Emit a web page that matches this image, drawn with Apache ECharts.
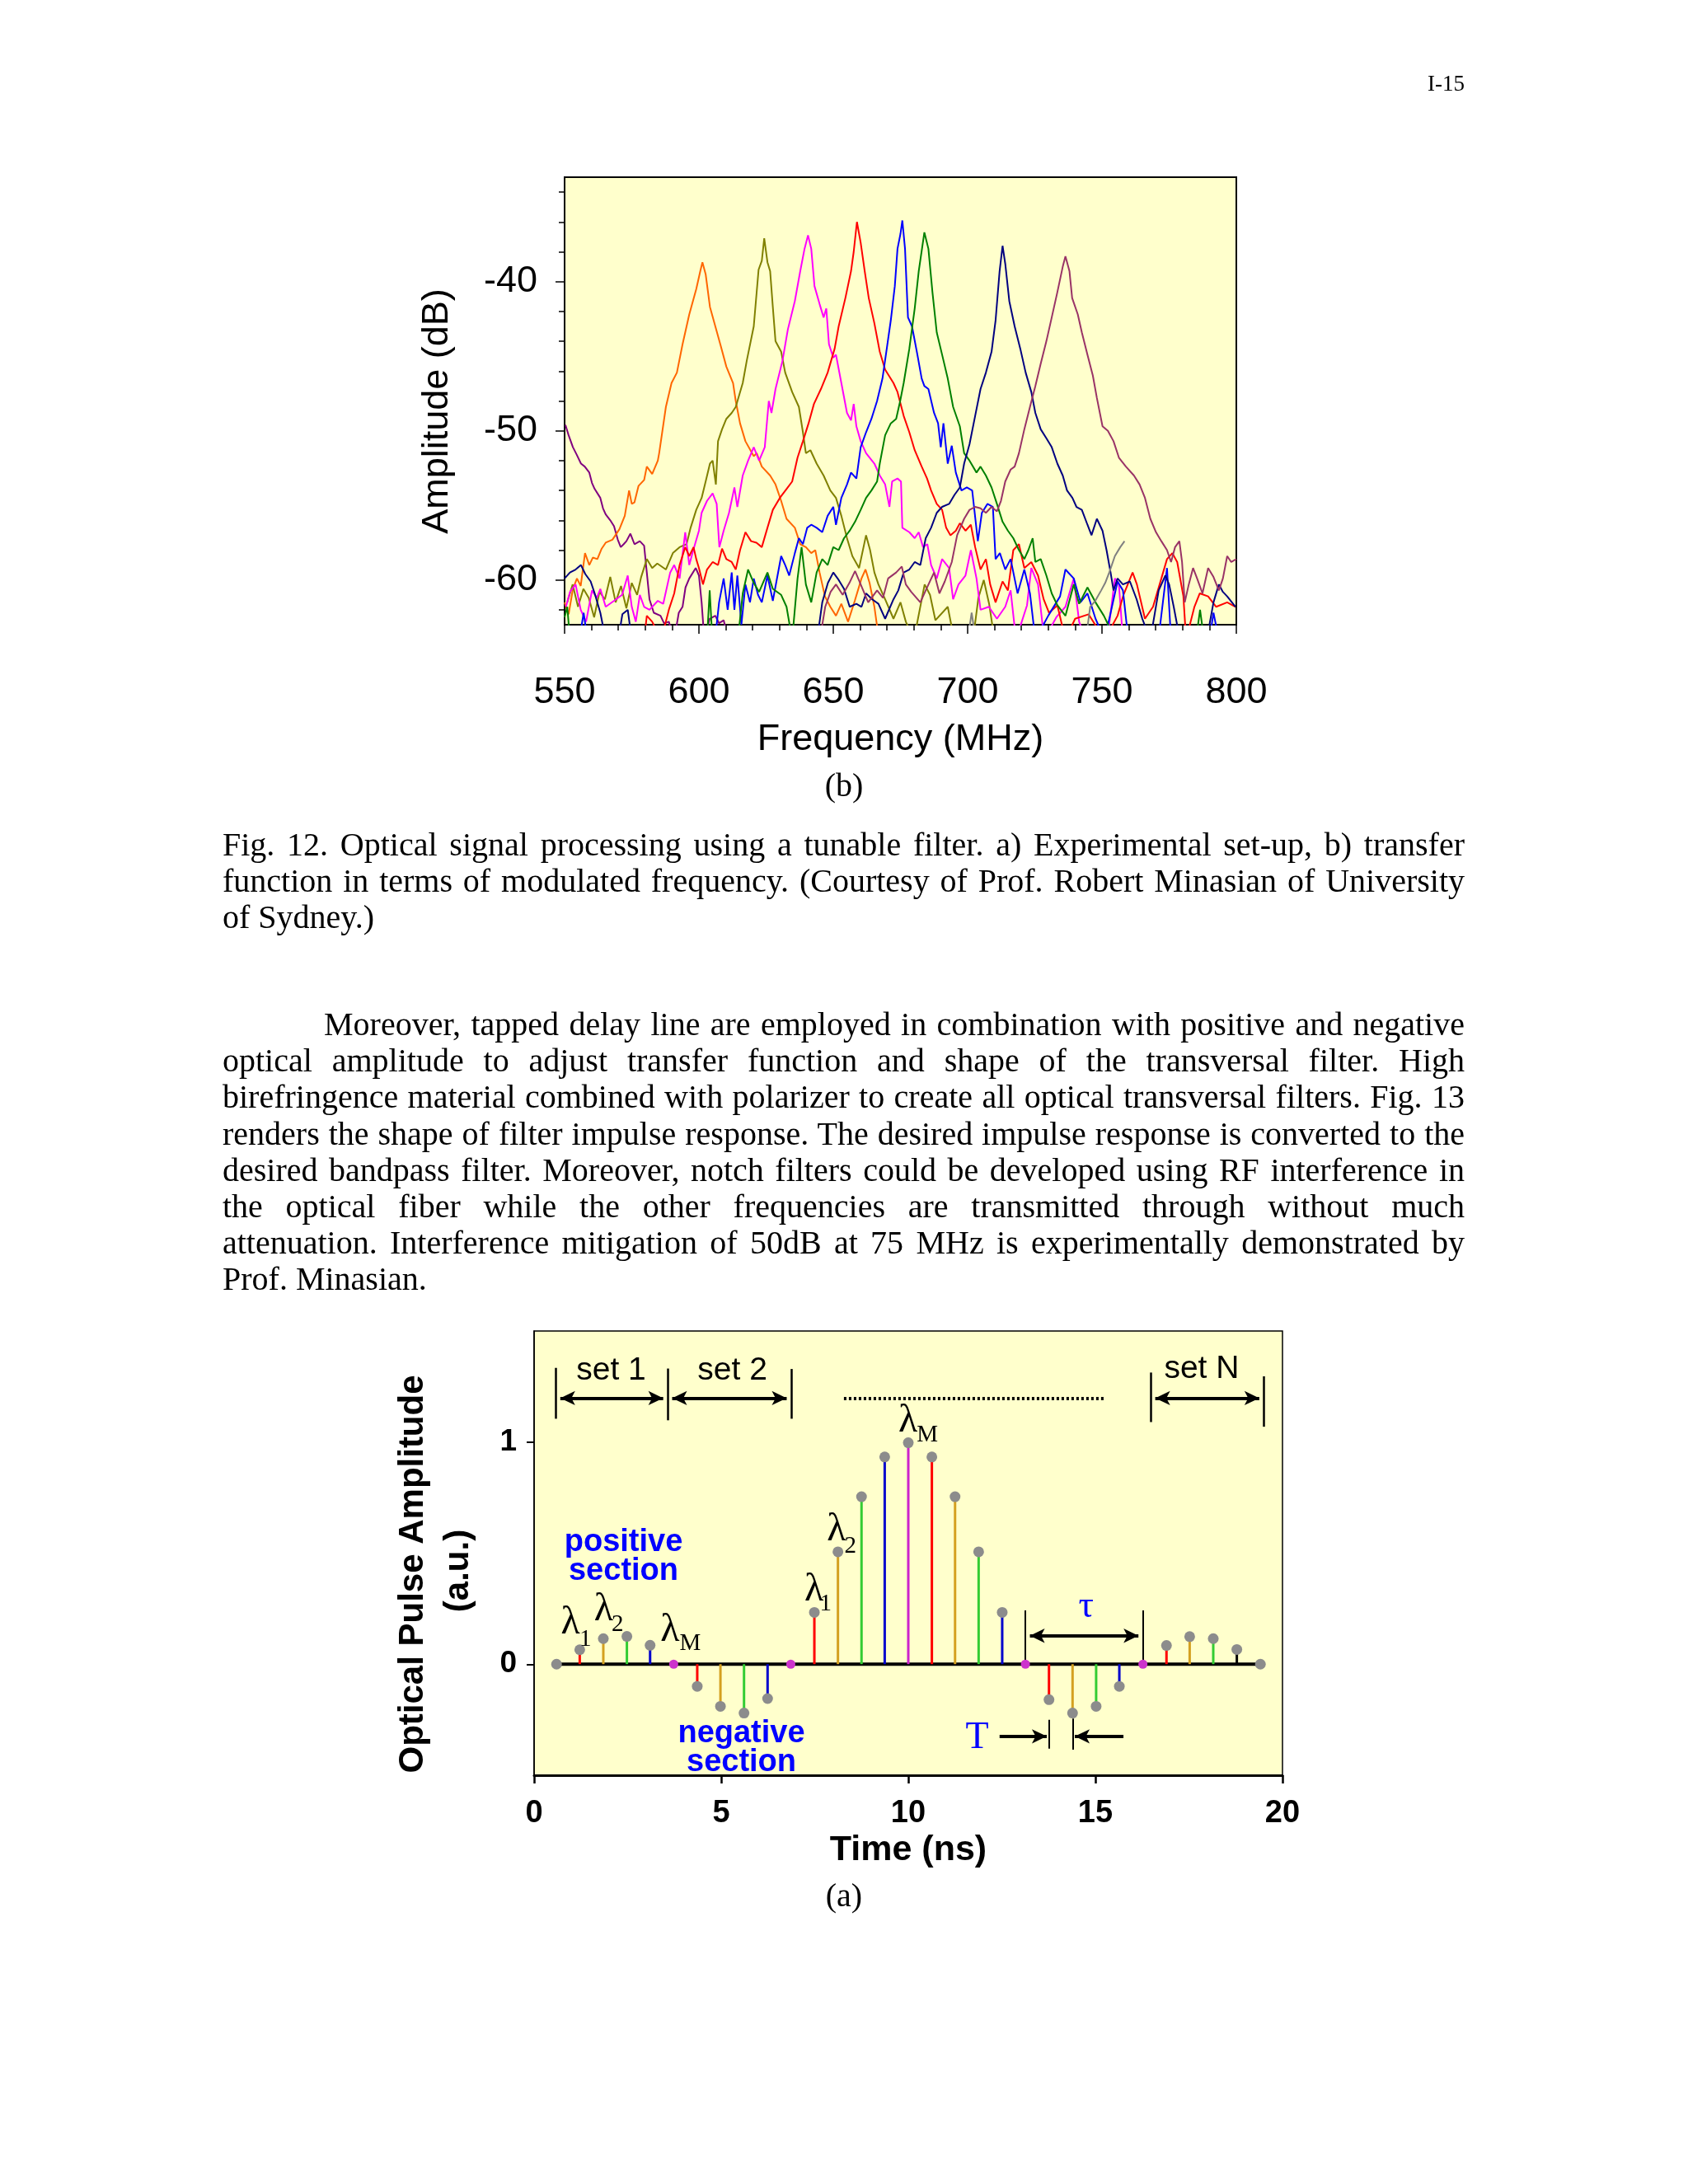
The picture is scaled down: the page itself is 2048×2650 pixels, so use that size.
<!DOCTYPE html>
<html><head><meta charset="utf-8">
<script src="https://cdn.jsdelivr.net/npm/echarts@6/dist/echarts.min.js"></script>
<style>
html,body{margin:0;padding:0;background:#fff;}
#page{position:relative;width:2048px;height:2650px;overflow:hidden;}
#chart{position:absolute;left:0;top:0;width:2048px;height:2650px;}
.t{position:absolute;z-index:2;font-family:"Liberation Serif","Times New Roman",serif;font-size:40px;line-height:44.2px;color:#000;}
.j{text-align:justify;text-align-last:justify;}
</style></head>
<body><div id="page"><div id="chart"></div>
<div class="t" style="left:1600px;top:86px;width:177px;text-align:right;font-size:27px;line-height:30px">I-15</div>
<div class="t" style="left:924px;top:931px;width:200px;text-align:center">(b)</div>
<div class="t" style="left:270px;top:1003px;width:1507px">
<div class="j">Fig. 12. Optical signal processing using a tunable filter. a) Experimental set-up, b) transfer</div>
<div class="j">function in terms of modulated frequency. (Courtesy of Prof. Robert Minasian of University</div>
<div>of Sydney.)</div>
</div>
<div class="t" style="left:270px;top:1221px;width:1507px">
<div class="j" style="padding-left:123px">Moreover, tapped delay line are employed in combination with positive and negative</div>
<div class="j">optical amplitude to adjust transfer function and shape of the transversal filter. High</div>
<div class="j">birefringence material combined with polarizer to create all optical transversal filters. Fig. 13</div>
<div class="j">renders the shape of filter impulse response. The desired impulse response is converted to the</div>
<div class="j">desired bandpass filter. Moreover, notch filters could be developed using RF interference in</div>
<div class="j">the optical fiber while the other frequencies are transmitted through without much</div>
<div class="j">attenuation. Interference mitigation of 50dB at 75 MHz is experimentally demonstrated by</div>
<div>Prof. Minasian.</div>
</div>
<div class="t" style="left:924px;top:2278px;width:200px;text-align:center">(a)</div>
</div>
<script>
// ---------- Figure (b): transfer function traces, [frequency MHz, amplitude dB] ----------
const freqTicks = [550, 600, 650, 700, 750, 800];
const ampLabelValues = [-60, -50, -40];
const ampMinorTicks = [-62, -58, -56, -54, -52, -48, -46, -44, -42, -38, -36, -34];

const purpleTrace = [[550.3,-49.6],[551.5,-50.3],[553.1,-51.1],[554.5,-51.6],[556.1,-52.2],[557.5,-52.4],[559.2,-52.8],[560.2,-53.5],[561.2,-53.9],[563.3,-54.5],[564.3,-55.2],[565.3,-55.6],[567,-56],[568.4,-56.4],[569.8,-57.3],[570.9,-57.8],[572,-57.6],[573,-57.4],[574.5,-56.9],[576,-57.6],[578,-57.4],[579.6,-57.7],[580.6,-59.5],[581.6,-61.3],[583.2,-62.2],[585.7,-62.4],[587,-62.9],[588.8,-62.8],[590.8,-64],[592.5,-62.2],[593.9,-61.8],[595,-60.5],[596.4,-59.9],[598.8,-59.2],[600,-59.7],[601,-61.5],[602,-64],[604,-62.6],[606.1,-62.4],[607.5,-62.9],[609.2,-62.7],[611,-64]];
const orangeTrace = [[550,-61.5],[551.5,-62.3],[553.1,-60.6],[554.6,-59.9],[556,-60.4],[557.6,-58.2],[559.2,-59],[560.5,-58.5],[562.2,-58.6],[563.8,-57.9],[565.3,-57.5],[567.8,-57.3],[570.4,-56.6],[572.4,-55.7],[574,-54],[575,-54.9],[576,-54.8],[577.5,-53.7],[579.6,-53.3],[580.6,-52.4],[582.6,-52.9],[584.7,-52],[585.2,-51.5],[587.7,-48.4],[589.8,-46.8],[591.8,-46.1],[593.9,-44.2],[596.4,-42.2],[599,-40.5],[600.5,-39.3],[601.3,-38.7],[602.5,-39.5],[604.1,-41.7],[606.1,-43],[608.1,-44.3],[610.2,-45.7],[612.7,-46.8],[613.7,-48],[615.3,-49.5],[617.3,-50.7],[620.4,-51.7],[621.5,-51.5],[623.4,-52.4],[626.5,-53],[628.5,-53.6],[630.6,-54.7],[632.6,-55.9],[635.7,-56.5],[637.7,-57.6],[639.8,-57.8],[641.8,-58.2],[643.3,-58],[644.9,-59.5],[646.9,-61.1],[648.9,-61.8],[651,-62.4],[653,-61.6],[655.5,-62.8],[658,-61.4],[660.5,-59.9],[662,-59.3],[663.5,-60.2],[665.3,-61.8],[667,-64]];
const oliveTrace = [[551,-61.5],[553,-60.3],[555,-61.8],[557,-60.6],[559,-61.2],[561,-62.5],[563,-60.8],[565,-61.3],[567,-59.8],[569,-61.5],[571,-60.4],[573,-61.9],[575,-60.2],[577,-61],[578.5,-59.8],[580.6,-58.6],[582.6,-59.2],[584.5,-58.9],[587.7,-59.3],[590.3,-58.2],[592.8,-57.8],[595.4,-57.6],[596.9,-56.5],[599,-55.3],[601,-54.5],[602.5,-53.4],[604.1,-52.2],[605.1,-52],[606.3,-53.6],[607.1,-50.7],[608.6,-49.9],[610.2,-49.2],[612.2,-48.8],[613.7,-48.4],[616.3,-46.8],[617.8,-45.3],[620.4,-43],[622.2,-39.2],[623.4,-38.6],[624.3,-37.1],[625.5,-38.7],[626.5,-39.3],[627.5,-41.7],[628.5,-44],[630.6,-44.7],[632.1,-46.1],[634.7,-47.4],[637.2,-48.4],[638.7,-50.1],[639.8,-51.5],[641.5,-51.3],[643.8,-52.2],[646.4,-53],[648.9,-54],[651,-54.5],[653,-55.7],[655.1,-57.2],[657.1,-58.4],[659.6,-59.2],[662.2,-57],[663.7,-58],[665.3,-59.5],[666.8,-60.3],[669.3,-61.3],[672.4,-62.6],[675,-61.5],[677,-62.8],[680,-64],[684,-60.3],[686,-61],[688,-62.7],[692.6,-61.8],[695,-64],[702,-64],[704,-61.2],[706,-60],[708,-61.6],[710,-64]];
const magentaTrace = [[550.5,-61.8],[552,-60.8],[554.1,-60.3],[556,-62],[558,-62.8],[560.2,-60.7],[562,-61.2],[563.3,-60.6],[565.3,-61.8],[568.4,-61.4],[571.4,-61],[573.5,-59.7],[575,-61.8],[576.5,-62.8],[578,-61],[579.6,-61.8],[581.6,-62],[584.7,-61.4],[586.7,-61.6],[589.3,-59.5],[590.8,-59],[592.8,-59.9],[594.9,-56.8],[596.4,-59],[597.9,-58],[600,-56.7],[601,-55.5],[603,-54.7],[605.1,-54.2],[606.6,-54.9],[607.6,-57.8],[609.2,-56.7],[611.2,-55.5],[613.2,-53.8],[614.3,-55.1],[616.3,-53],[618.3,-52],[620.4,-51.1],[622.4,-52],[624.5,-51.1],[626,-48],[627,-48.8],[628.5,-47.2],[631.1,-45.3],[633.1,-43.2],[635.7,-41.3],[637.7,-39.3],[639.3,-37.8],[640.6,-36.9],[641.8,-37.8],[643,-40.3],[644.9,-41.5],[646.4,-42.4],[647.4,-41.8],[648.4,-44.2],[650,-45.1],[651,-44.9],[653,-46.8],[655.1,-48.8],[656.6,-49.3],[657.6,-48.2],[658.6,-49.7],[660.2,-50.7],[662.2,-51.5],[665.3,-52.2],[667.3,-53],[669.3,-53.6],[670.9,-55.1],[671.9,-53.4],[673.9,-53.2],[675.2,-53.4],[675.7,-56.5],[678.3,-56.8],[680.3,-57.2],[681.8,-56.8],[683.4,-57.8],[685,-57.6],[686.4,-59],[688.5,-59.9],[690.5,-58.6],[693.1,-59.2],[694.6,-61.3],[696.6,-60.3],[699.2,-59.7],[701.2,-58],[703.3,-59.9],[704.8,-62],[707.9,-61.8],[710.9,-62.6],[714,-61.8],[716,-60.7],[718,-64],[722.1,-61.7],[723.7,-59.2],[726.2,-60.3],[728.5,-64],[733,-62.5],[736.4,-61.8],[739.5,-59.9],[741.5,-62.8],[744,-64],[752,-64],[754.8,-59.9],[756.3,-60.3],[757.8,-64]];
const redTrace = [[579.6,-64],[580.6,-62.4],[582.6,-62.8],[586,-64],[588.8,-62],[590.8,-60.9],[592.8,-59],[594.9,-57.8],[596.4,-58.4],[598,-57.8],[599,-58.6],[600,-59.2],[601.5,-60.3],[603,-59.3],[605.1,-58.8],[607.1,-59],[608.6,-57.9],[610.2,-58.6],[612.2,-58.8],[613.7,-59.3],[615.3,-58],[617.3,-56.8],[619.4,-57.4],[621.4,-57.5],[623.4,-57.8],[625.5,-56.5],[627.5,-55.3],[630.1,-54.5],[632.6,-53.9],[634.7,-53.4],[636.7,-51.8],[638.7,-50.7],[640.8,-49.5],[642.8,-48.2],[645.4,-47.2],[647.9,-46.1],[650.5,-44.5],[652,-43],[654.5,-41.1],[656.6,-39.3],[657.6,-38],[658.8,-36],[660.2,-37.4],[661.7,-39.3],[663.2,-41.1],[665.3,-42.8],[667.3,-44.7],[669.3,-45.9],[672.4,-46.8],[673.9,-47.4],[676.2,-49],[678.3,-50.1],[680.3,-51.3],[682.9,-52.4],[684.9,-53.2],[686.4,-54],[688.5,-54.9],[690.5,-55.3],[692,-56.5],[693.6,-57],[695.6,-56.7],[697.1,-56.2],[699.2,-56.7],[701.2,-56.3],[702.8,-57.8],[704.8,-59.3],[706.8,-58.6],[708.4,-60.3],[710.4,-61.5],[713,-60.1],[715,-60.7],[717,-58],[719.1,-57.6],[721.1,-59.2],[723.7,-58.8],[726.2,-59.7],[728.3,-61.3],[730.3,-62.2],[733.4,-61.7],[736.4,-64],[740,-62.6],[745,-62.3],[751,-64],[755.8,-62.4],[758,-61],[761.4,-59.5],[763,-60.3],[766,-62.6],[769,-61.8],[772.1,-59.9],[774.2,-58.6],[776.2,-58.2],[778,-58.8],[780.3,-61.1],[781.3,-64],[784.4,-61.8],[786.4,-60.9],[789.5,-61.1],[792.5,-61.8],[796.6,-61.5],[799.7,-61.8]];
const blueTrace = [[555.5,-64],[557.1,-62.2],[558.5,-64],[606,-64],[607.5,-61.5],[609.2,-59.9],[610.7,-62],[612.2,-59.5],[613.2,-62],[614.3,-59.7],[615.8,-63],[617.3,-60.3],[619,-61.5],[620.4,-59.9],[622,-61],[623.4,-61.5],[625.5,-59.7],[627.5,-61.4],[630.6,-58.4],[632.1,-59],[633.6,-59.7],[635.7,-58.2],[637.2,-57.2],[638.7,-57.6],[640.3,-56.5],[641.8,-56.3],[643.8,-56.5],[645.9,-56.8],[647.9,-55.7],[650,-55.1],[651,-56.3],[653,-54.5],[655.1,-53.6],[656.6,-52.8],[658.6,-53.2],[660.2,-51.1],[662.2,-50.1],[664.2,-49.2],[666.3,-48],[668.3,-46.5],[669.9,-44.5],[671.4,-42.6],[672.9,-40.3],[673.9,-37.8],[675,-36.8],[675.7,-35.9],[676.7,-37.8],[677.8,-42.4],[679.3,-43],[681.3,-44.9],[682.9,-46.5],[683.9,-47],[685.4,-47.2],[687.5,-48.8],[689,-49.5],[690,-51.1],[691,-49.5],[692.6,-52.2],[694.1,-51],[695.6,-52.8],[697.7,-54],[699.7,-53.8],[701.7,-54],[703.8,-57.4],[705.3,-55.5],[707.4,-54.9],[709.4,-55.1],[710.4,-58.6],[712,-58.2],[714,-59.3],[716,-58.6],[718.6,-60.9],[721.1,-59.3],[723.2,-60.9],[725.2,-64],[730,-62.4],[734.4,-61.1],[736.4,-59.3],[739.5,-59.9],[742,-61.5],[744.6,-60.9],[747.6,-62.6],[751,-64],[755.8,-60.1],[757.8,-60.7],[759.8,-64],[771,-64],[774.2,-59.2],[775.7,-64],[790,-64],[791.5,-62.2],[793.5,-64]];
const greenTrace = [[550,-62.5],[551,-61.8],[552,-64],[603,-64],[604,-60.7],[605,-64],[614.5,-64],[616.3,-60.9],[618.3,-59.3],[620.4,-60.2],[622.4,-60.8],[625.5,-59.5],[627.5,-60.6],[630.6,-61],[632.6,-61.8],[634.7,-64],[636.7,-59.9],[638.2,-57.8],[639.8,-60.3],[641.8,-61.5],[643.8,-59.5],[645.9,-58.6],[647.9,-59],[650,-57.8],[652,-58],[654,-57.2],[656.1,-56.7],[658.1,-56.1],[660.2,-55.3],[662.2,-54.5],[664.2,-54],[666.3,-53.4],[667.3,-52.2],[669.3,-50.3],[671.4,-49.5],[673.4,-49.2],[674.9,-48],[676.2,-46.8],[678.3,-44.5],[680.3,-41.8],[681.8,-39.3],[683.9,-36.7],[685.4,-37.8],[686.9,-40.7],[688.5,-43.4],[690.5,-44.9],[692.6,-46.5],[694.6,-48.4],[697.1,-49.7],[698.7,-51.5],[700.7,-52],[703.3,-52.8],[704.8,-52.4],[706.8,-53],[708.9,-53.8],[710.9,-54.9],[713,-56.1],[715,-56.7],[717,-57.2],[719.1,-58],[721.1,-58.6],[722.6,-58],[724.2,-57.2],[725.2,-58.8],[727.2,-58.6],[729.3,-59.7],[731.3,-60.9],[733.4,-61.7],[736.4,-62.4],[739.5,-60.3],[741.5,-61.6],[744.6,-60.5],[747.6,-61.5],[750.7,-62.4],[755,-64],[785,-64],[786.5,-62],[788,-64]];
const navyTrace = [[550,-59.9],[552,-59.5],[554.1,-59.3],[556.1,-59],[557.7,-59.6],[559.7,-60.1],[561.2,-60.9],[563.3,-62.2],[565.3,-64],[570,-64],[571.5,-62.3],[573.5,-62],[575,-64],[644,-64],[645.9,-61.5],[648,-60.2],[650,-59.5],[652,-60],[654,-60.6],[656.1,-61.8],[658.6,-61.6],[660.5,-61.8],[662.2,-60.9],[664.5,-61.3],[666.8,-61.6],[669.3,-62.6],[672.4,-61.3],[674.2,-60.7],[676.2,-59.5],[678.3,-59.3],[680.3,-58.8],[682.4,-59],[684.4,-57.2],[686.4,-56.5],[688.5,-55.5],[690.5,-55.1],[693.1,-54.9],[695.1,-54.3],[697.1,-53.8],[698.7,-52.2],[700.7,-50.9],[702.8,-49],[704.8,-47.2],[706.8,-46.1],[708.9,-44.7],[710.4,-42.6],[711.9,-39.3],[713,-37.6],[714,-38.8],[715.5,-41.3],[717.5,-43],[719.6,-44.5],[721.6,-46.1],[723.7,-47.4],[725.2,-48.8],[727.2,-49.9],[729.3,-50.5],[731.3,-51.1],[733.4,-52.2],[735.4,-53],[737,-54],[739,-54.5],[740.5,-55.1],[742.5,-55.3],[744.6,-56.3],[746.1,-57],[748.1,-55.9],[750.2,-56.7],[751.7,-58],[753.2,-59.5],[754.3,-60.7],[755.8,-59.9],[757.8,-60.3],[760.4,-60.1],[762.9,-61.3],[765,-62.6],[768,-64],[771.1,-60.7],[773.6,-59.7],[775,-60.3],[776.7,-61.8],[779,-64],[789,-64],[791.5,-61.5],[793.5,-60.3],[795,-60.8],[796.6,-61.1],[799.7,-61.8]];
const mauveTrace = [[645,-64],[647,-61.8],[649,-60.8],[651,-60.3],[653.5,-61],[656,-60.2],[658.1,-59.4],[660.2,-60.3],[663,-61.5],[666.3,-60.7],[668.5,-61.2],[670.4,-59.9],[673.4,-59.5],[675.5,-59.1],[677,-60.3],[679,-60.8],[682.4,-61.5],[684.4,-60.7],[687.5,-59.5],[689.5,-60.9],[691.5,-60.1],[694.1,-58.8],[696.1,-57],[698.7,-55.9],[700.7,-55.3],[702.8,-55.1],[704.8,-55.2],[706.8,-55.5],[708.9,-55.1],[710.9,-55.4],[712.4,-54.7],[714,-53.4],[716,-52.6],[717.5,-52.4],[719.1,-51.5],[721.1,-49.9],[723.2,-48.4],[725.2,-47],[727.2,-45.5],[729.3,-44],[731.3,-42.4],[733.4,-40.7],[735.4,-39],[736.4,-38.3],[737.9,-39.3],[738.9,-41.1],[741,-42.2],[742.5,-43.4],[744.6,-44.9],[746.6,-46.3],[748.1,-47.8],[750.2,-49.7],[752.2,-50],[754.3,-50.7],[756.3,-51.8],[758.9,-52.4],[761.9,-53],[764,-53.6],[766,-54.5],[768,-55.9],[770.1,-56.8],[772.1,-57.4],[774.2,-58],[775.7,-58.8],[777.2,-57.8],[778.8,-57.4],[779.8,-58.8],[780.8,-61.5],[782.3,-60.3],[783.9,-59.2],[785.4,-59.9],[787.4,-60.9],[789.5,-59.2],[791.5,-59.8],[793.5,-60.7],[795,-59.9],[796.6,-58.4],[798.1,-58.8],[800,-58.6]];
const grayTrace = [[700,-64],[701.5,-62.2],[703,-64],[744,-64],[745.6,-61.8],[747.5,-61.4],[749.7,-60.7],[751.2,-60.2],[752.7,-59.5],[754.8,-58.4],[756.8,-57.8],[758.4,-57.4]];

// ---------- Figure (a): impulse response taps ----------
const timeTicks = [0, 5, 10, 15, 20];
const pulseTickValues = [0, 1];
const stemTimes = [0.6,1.22,1.85,2.48,3.1,3.73,4.36,4.98,5.61,6.24,6.86,7.49,8.12,8.75,9.37,10.0,10.63,11.25,11.88,12.51,13.13,13.76,14.39,15.02,15.64,16.27,16.9,17.52,18.15,18.78,19.41];
const stemAmps  = [0,0.065,0.115,0.125,0.085,0,-0.10,-0.19,-0.22,-0.155,0,0.233,0.506,0.754,0.933,0.997,0.933,0.754,0.506,0.233,0,-0.16,-0.22,-0.19,-0.10,0,0.084,0.124,0.115,0.066,0];
// channel per tap: 0 set boundary, 1 λ1 red, 2 λ2 gold, 3 green, 4 blue, 5 λM magenta, 6 black, 7 end point
const stemChannel = [7,1,2,3,4,0,1,2,3,4,0,1,2,3,4,5,1,2,3,4,0,1,2,3,4,0,1,2,3,6,7];

// annotations (data coordinates)
const setNames = [[2.06,1.322,'set 1'],[5.30,1.322,'set 2'],[17.84,1.328,'set N']];
const setTicks = [[0.58,1.105,1.334],[3.57,1.098,1.331],[6.87,1.105,1.329],[16.48,1.09,1.313],[19.5,1.069,1.296]];
const setSpans = [[0.58,3.57,1.198],[3.57,6.87,1.198],[16.48,19.5,1.198]];
const dottedSpan = [8.28,15.27,1.198];
const sectionNames = [[2.39,0.483,'positive\nsection'],[5.54,-0.376,'negative\nsection']];
const lambdaMarks = [[0.97,0.184],[1.86,0.246],[3.63,0.153],[7.48,0.333],[8.08,0.604],[9.99,1.093]];
const lambdaSubs = [[1.37,0.109,'1'],[2.23,0.177,'2'],[4.17,0.091,'M'],[7.79,0.27,'1'],[8.45,0.53,'2'],[10.51,1.031,'M']];
const periodNames = [[14.75,0.258,'τ'],[11.84,-0.331,'T']];
const tauTicks = [[13.13,0,0.242],[16.27,0,0.242]];
const tauSpan = [13.13,16.27,0.128];
const tTicks = [[13.76,-0.25,-0.38],[14.39,-0.245,-0.385]];
const tArrows = [[12.44,13.70,-0.325],[15.75,14.45,-0.325]];

const chart = echarts.init(document.getElementById('chart'), null, {renderer:'canvas'});
const sans = '"Liberation Sans", Arial, sans-serif';
const serif = '"Liberation Serif", "Times New Roman", serif';
const stemPalette = ['#CC33CC','#FF0000','#D4A020','#33CC33','#0000CC','#CC22CC','#000000','#8C8C8C'];

const traces = [
  {name:'f1', color:'#800080', data:purpleTrace},
  {name:'f2', color:'#FF6600', data:orangeTrace},
  {name:'f3', color:'#808000', data:oliveTrace},
  {name:'f4', color:'#FF00FF', data:magentaTrace},
  {name:'f5', color:'#FF0000', data:redTrace},
  {name:'f6', color:'#0000FF', data:blueTrace},
  {name:'f7', color:'#008000', data:greenTrace},
  {name:'f8', color:'#000080', data:navyTrace},
  {name:'f9', color:'#993366', data:mauveTrace},
  {name:'f10', color:'#808080', data:grayTrace}
];

const series = traces.map(t => ({
  name: t.name, type:'line', xAxisIndex:0, yAxisIndex:0, data:t.data,
  showSymbol:false, symbol:'none', clip:true, z:3,
  lineStyle:{color:t.color, width:2}, itemStyle:{color:t.color}
}));

const ml = [];
setTicks.forEach(s => ml.push([{coord:[s[0],s[1]], symbol:'none', lineStyle:{width:2.5,color:'#000',type:'solid'}},{coord:[s[0],s[2]], symbol:'none'}]));
setSpans.forEach(s => ml.push([{coord:[s[0]+0.12,s[2]], symbol:'arrow', symbolSize:[13,18], lineStyle:{width:4,color:'#000',type:'solid'}},{coord:[s[1]-0.12,s[2]], symbol:'arrow', symbolSize:[13,18]}]));
ml.push([{coord:[dottedSpan[0],dottedSpan[2]], symbol:'none', lineStyle:{width:4,color:'#000',type:[3,3]}},{coord:[dottedSpan[1],dottedSpan[2]], symbol:'none'}]);
tauTicks.forEach(s => ml.push([{coord:[s[0],s[1]], symbol:'none', lineStyle:{width:2,color:'#000',type:'solid'}},{coord:[s[0],s[2]], symbol:'none'}]));
ml.push([{coord:[tauSpan[0]+0.12,tauSpan[2]], symbol:'arrow', symbolSize:[13,18], lineStyle:{width:4,color:'#000',type:'solid'}},{coord:[tauSpan[1]-0.12,tauSpan[2]], symbol:'arrow', symbolSize:[13,18]}]);
tTicks.forEach(s => ml.push([{coord:[s[0],s[1]], symbol:'none', lineStyle:{width:2,color:'#000',type:'solid'}},{coord:[s[0],s[2]], symbol:'none'}]));
tArrows.forEach(s => ml.push([{coord:[s[0],s[2]], symbol:'none', lineStyle:{width:4,color:'#000',type:'solid'}},{coord:[s[1],s[2]], symbol:'arrow', symbolSize:[13,18]}]));

series.push({
  type:'line', xAxisIndex:1, yAxisIndex:2, z:3, symbol:'none', showSymbol:false,
  data:[[stemTimes[0],0],[stemTimes[stemTimes.length-1],0]],
  lineStyle:{color:'#000', width:4},
  markLine:{silent:true, animation:false, label:{show:false}, symbol:['none','none'], data:ml}
});
series.push({
  type:'custom', xAxisIndex:1, yAxisIndex:2, z:4,
  data: stemTimes.map((t,i) => [t, stemAmps[i], stemChannel[i]]),
  renderItem: function(params, api){
    const x = api.value(0), y = api.value(1);
    const a = api.coord([x,0]), b = api.coord([x,y]);
    return {type:'line', shape:{x1:a[0],y1:a[1],x2:b[0],y2:b[1]}, style:{stroke:stemPalette[api.value(2)], lineWidth:3}};
  }
});
series.push({
  type:'scatter', xAxisIndex:1, yAxisIndex:2, z:5,
  data: stemTimes.map((t,i) => [t, stemAmps[i], stemChannel[i]]),
  symbolSize: function(v){ return v[2]===0 ? 11 : 13; },
  itemStyle:{color: function(p){ return p.data[2]===0 ? '#CC33CC' : '#8C8C8C'; }, opacity:1}
});
function textSeries(data, style){
  return {type:'scatter', xAxisIndex:1, yAxisIndex:2, z:6, symbolSize:2, silent:true,
    itemStyle:{color:'rgba(0,0,0,0)', borderWidth:0}, data:data,
    label:Object.assign({show:true, position:'inside', opacity:1, formatter:function(p){return p.data[2];}}, style)};
}
series.push(textSeries(setNames, {fontFamily:sans, fontSize:39, color:'#000'}));
series.push(textSeries(sectionNames, {fontFamily:sans, fontSize:38, fontWeight:'bold', color:'#0000FF', lineHeight:35}));
series.push(textSeries(lambdaMarks.map(p => [p[0],p[1],'λ']), {fontFamily:serif, fontSize:48, color:'#000'}));
series.push(textSeries(lambdaSubs, {fontFamily:serif, fontSize:29, color:'#000'}));
series.push(textSeries(periodNames, {fontFamily:serif, fontSize:46, color:'#0000FF'}));

const option = {
  animation:false,
  backgroundColor:'#ffffff',
  grid:[
    {left:685, top:215, width:815, height:543, show:true, backgroundColor:'#FFFFCC', borderColor:'#000', borderWidth:2, containLabel:false},
    {left:648, top:1615, width:908, height:539, show:true, backgroundColor:'#FFFFCC', borderColor:'#000', borderWidth:1.5, containLabel:false}
  ],
  xAxis:[
    {type:'value', gridIndex:0, min:freqTicks[0], max:freqTicks[freqTicks.length-1], interval:50,
     name:'Frequency (MHz)', nameLocation:'middle', nameGap:117,
     nameTextStyle:{fontFamily:sans, fontSize:45, color:'#000'},
     axisLine:{show:true, onZero:false, lineStyle:{color:'#000', width:2}},
     axisTick:{show:true, inside:false, length:11, lineStyle:{color:'#000', width:1.5}},
     minorTick:{show:true, splitNumber:5, length:7, lineStyle:{color:'#000', width:1.5}},
     axisLabel:{margin:60, fontFamily:sans, fontSize:45, color:'#000', showMinLabel:true, showMaxLabel:true},
     splitLine:{show:false}, minorSplitLine:{show:false}},
    {type:'value', gridIndex:1, min:timeTicks[0], max:timeTicks[timeTicks.length-1], interval:5,
     name:'Time (ns)', nameLocation:'middle', nameGap:70,
     nameTextStyle:{fontFamily:sans, fontSize:43, fontWeight:'bold', color:'#000'},
     axisLine:{show:true, onZero:false, lineStyle:{color:'#000', width:3}},
     axisTick:{show:true, inside:false, length:10, lineStyle:{color:'#000', width:2.5}},
     axisLabel:{margin:28, fontFamily:sans, fontSize:38, fontWeight:'bold', color:'#000', showMinLabel:true, showMaxLabel:true},
     splitLine:{show:false}}
  ],
  yAxis:[
    {type:'value', gridIndex:0, min:-63, max:-33,
     axisLine:{show:true, onZero:false, lineStyle:{color:'#000', width:2}},
     axisTick:{show:true, inside:false, length:11, customValues:ampLabelValues, lineStyle:{color:'#000', width:1.5}},
     axisLabel:{margin:33, fontFamily:sans, fontSize:45, color:'#000', customValues:ampLabelValues},
     splitLine:{show:false}},
    {type:'value', gridIndex:0, min:-63, max:-33, position:'left',
     axisLine:{show:false},
     axisTick:{show:true, inside:false, length:7, customValues:ampMinorTicks, lineStyle:{color:'#000', width:1.5}},
     axisLabel:{show:false},
     splitLine:{show:false}},
    {type:'value', gridIndex:1, min:-0.5, max:1.5,
     axisLine:{show:true, onZero:false, lineStyle:{color:'#000', width:1.5}},
     axisTick:{show:true, inside:false, length:9, customValues:pulseTickValues, lineStyle:{color:'#000', width:2}},
     axisLabel:{margin:21, fontFamily:sans, fontSize:37, fontWeight:'bold', color:'#000', customValues:pulseTickValues},
     splitLine:{show:false}}
  ],
  graphic:[
    {type:'text', x:531, y:499, rotation:Math.PI/2, silent:true,
     style:{text:'Amplitude (dB)', fontFamily:sans, fontSize:45, fill:'#000', align:'center', verticalAlign:'middle'}},
    {type:'text', x:501, y:1910, rotation:Math.PI/2, silent:true,
     style:{text:'Optical Pulse Amplitude', fontFamily:sans, fontSize:42, fontWeight:'bold', fill:'#000', align:'center', verticalAlign:'middle'}},
    {type:'text', x:556, y:1906, rotation:Math.PI/2, silent:true,
     style:{text:'(a.u.)', fontFamily:sans, fontSize:42, fontWeight:'bold', fill:'#000', align:'center', verticalAlign:'middle'}}
  ],
  series:series
};
chart.setOption(option);
</script>
</body></html>
